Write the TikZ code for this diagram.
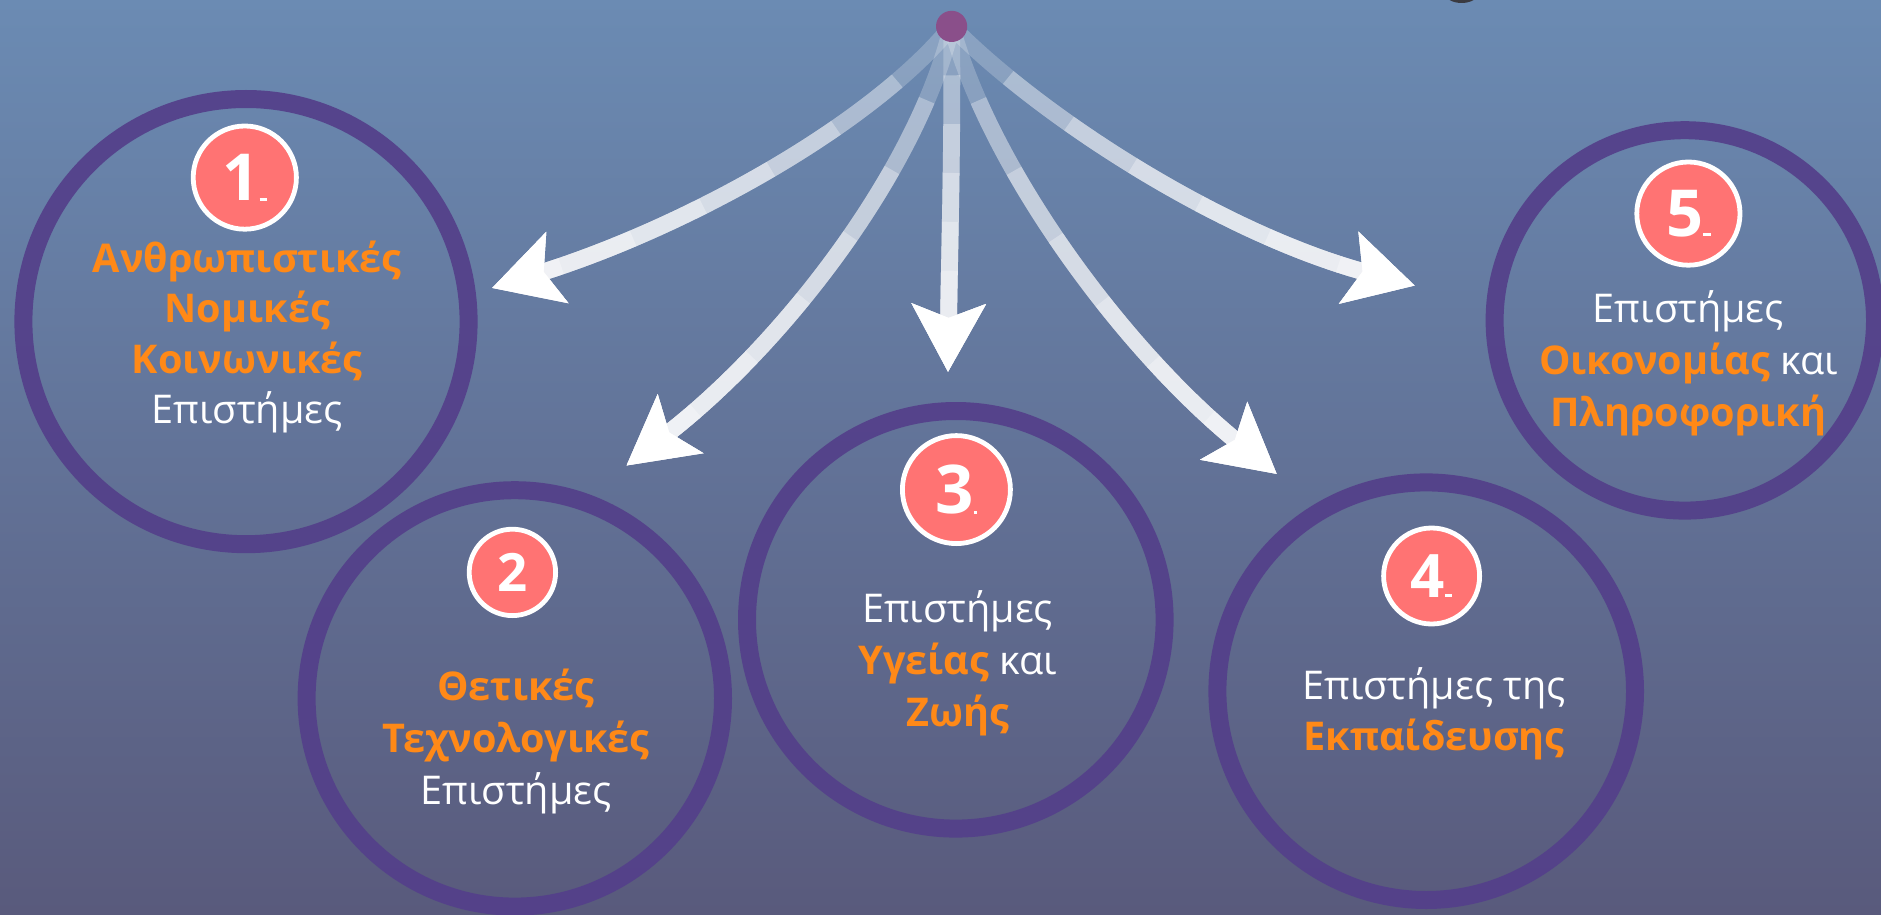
\documentclass[tikz,border=0pt]{standalone}
\usepackage{fontspec}
\setmainfont{Open Sans}
\usetikzlibrary{arrows.meta}
\definecolor{bgtop}{RGB}{107,139,179}
\definecolor{bgbot}{RGB}{89,90,124}
\definecolor{ringc}{RGB}{84,64,138}
\definecolor{badgec}{RGB}{255,115,115}
\definecolor{orng}{RGB}{255,137,23}
\definecolor{dotc}{RGB}{138,79,138}
\definecolor{sliver}{RGB}{58,58,64}
\newcommand\hlo[1]{\textcolor{orng}{\bfseries #1}}
\pgfdeclarelayer{back}
\pgfdeclarelayer{arrowlayer}
\pgfsetlayers{back,arrowlayer,main}
\newcommand\fadearrow[4]{%
  \foreach \k in {0,...,6}{%
    \pgfmathsetmacro\off{max(0.01,#4*\k/7)}%
    \pgfmathsetmacro\op{ifthenelse(\k==0,0.22,0.3)}%
    \draw[shaft, opacity=\op, dash pattern=on 0pt off \off pt on 5000pt] (src.center) .. controls #1 and #2 .. #3;
  }
  \draw[shaft, dash pattern=on 0pt off 5000pt] (src.center) .. controls #1 and #2 .. #3;
}
\begin{document}
\begin{tikzpicture}[x=1pt,y=-1pt,
  ring/.style={circle, draw=ringc, line width=15pt, inner sep=0pt, opacity=0.93},
  badge/.style={circle, fill=badgec, draw=white, line width=4pt, inner sep=0pt, text=white},
  txt/.style={text=white, font=\fontsize{33}{43}\selectfont, inner sep=0pt, anchor=base},
  shaft/.style={draw=white, line width=14pt, line cap=butt,
     -{Stealth[length=56pt,width=60pt,inset=11pt]}},
  dotn/.style={circle, fill=dotc, minimum size=26pt, inner sep=0pt}]
\useasboundingbox (0,0) rectangle (1567.5,761.7);
\begin{pgfonlayer}{back}
\shade[top color=bgtop,bottom color=bgbot] (0,0) rectangle (1567.5,761.7);
\begin{scope}
\clip (0,0) rectangle (1567.5,761.7);
\fill[sliver] (1218,-6) ellipse (14 and 8.5);
\end{scope}
\end{pgfonlayer}

% circles
\node[ring, minimum size=371pt] (c1) at (205,268) {};
\node[ring, minimum size=347pt] (c2) at (429,582) {};
\node[ring, minimum size=348pt] (c3) at (796.5,516.5) {};
\node[ring, minimum size=348pt] (c4) at (1188.5,576) {};
\node[ring, minimum size=317pt] (c5) at (1404,267) {};

% source dot
\node[dotn] (src) at (793,22) {};

% arrow ends
\coordinate (e1) at (410,240);
\coordinate (e2) at (522,388);
\coordinate (e3) at (790,310);
\coordinate (e4) at (1064,395);
\coordinate (e5) at (1179,238);

\begin{pgfonlayer}{arrowlayer}
\fadearrow{(725,105)}{(570,190)}{(e1)}{450}
\fadearrow{(765,140)}{(655,285)}{(e2)}{455}
\fadearrow{(794,120)}{(791,220)}{(e3)}{285}
\fadearrow{(825,140)}{(935,290)}{(e4)}{460}
\fadearrow{(870,100)}{(1020,195)}{(e5)}{445}
\end{pgfonlayer}

% badges
\node[badge, minimum size=86pt, font=\bfseries\fontsize{54}{54}\selectfont] (b1) at (204,148) {1\rule{6pt}{2.5pt}};
\node[badge, minimum size=72pt, font=\bfseries\fontsize{44}{44}\selectfont] (b2) at (427,477) {2};
\node[badge, minimum size=90pt, font=\bfseries\fontsize{56}{56}\selectfont] (b3) at (797,408) {3\rule{3pt}{2.5pt}};
\node[badge, minimum size=80pt, font=\bfseries\fontsize{50}{50}\selectfont] (b4) at (1193,480) {4\rule{6pt}{2.5pt}};
\node[badge, minimum size=86pt, font=\bfseries\fontsize{54}{54}\selectfont] (b5) at (1407,178) {5\rule{6pt}{2.5pt}};

% texts
\node[txt] (t1a) at (206,227) {\hlo{Ανθρωπιστικές}};
\node[txt] (t1b) at (206,269) {\hlo{Νομικές}};
\node[txt] (t1c) at (206,311) {\hlo{Κοινωνικές}};
\node[txt] (t1d) at (206,353) {Επιστήμες};

\node[txt] (t2a) at (430,584) {\hlo{Θετικές}};
\node[txt] (t2b) at (430,627) {\hlo{Τεχνολογικές}};
\node[txt] (t2c) at (430,670) {Επιστήμες};

\node[txt] (t3a) at (798,519) {Επιστήμες};
\node[txt] (t3b) at (798,562) {\hlo{Υγείας} και};
\node[txt] (t3c) at (798,605) {\hlo{Ζωής}};

\node[txt] (t4a) at (1195,583) {Επιστήμες της};
\node[txt] (t4b) at (1195,625) {\hlo{Εκπαίδευσης}};

\node[txt] (t5a) at (1407,269) {Επιστήμες};
\node[txt] (t5b) at (1407,312) {\hlo{Οικονομίας} και};
\node[txt] (t5c) at (1407,355) {\hlo{Πληροφορική}};
\end{tikzpicture}
\end{document}
